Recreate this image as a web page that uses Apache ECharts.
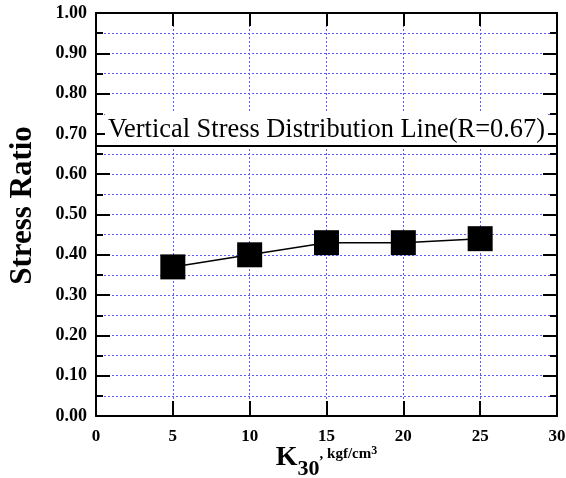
<!DOCTYPE html>
<html>
<head>
<meta charset="utf-8">
<script src="https://cdn.jsdelivr.net/npm/echarts@6/dist/echarts.min.js"></script>
<style>
  html, body { margin: 0; padding: 0; background: #fff; }
  #chart { width: 566px; height: 478px; }
</style>
</head>
<body>
<div id="chart"></div>
<script>
// data
const k30Values = [5, 10, 15, 20, 25]
const stressRatio = [0.37, 0.40, 0.43, 0.43, 0.44]
const verticalLineValue = 0.67
const verticalLineText = 'Vertical Stress Distribution Line(R=0.67)'

const serif = 'Liberation Serif, Times New Roman, serif'
const gridColor = '#5a5aff'

// common look for the frame axes
const frameLine = { show: true, onZero: false, lineStyle: { color: '#000', width: 2 } }

const chart = echarts.init(document.getElementById('chart'))

chart.setOption({
    animation: false,
    backgroundColor: '#fff',
    grid: {
        left: 96,
        right: 9,
        top: 13,
        bottom: 62,
        outerBoundsMode: 'none'
    },
    xAxis: [
        {
            type: 'value',
            min: 0,
            max: 30,
            interval: 5,
            position: 'bottom',
            axisLine: frameLine,
            axisTick: { inside: true, length: 15, lineStyle: { color: '#000', width: 2 } },
            axisLabel: {
                color: '#000',
                fontFamily: serif,
                fontWeight: 'bold',
                fontSize: 17,
                margin: 12
            },
            splitLine: { show: true, lineStyle: { color: gridColor, type: [2, 2], width: 1 } },
            name: '{k|K}{sub|30}{unit|, kgf/cm}{sup|3}',
            nameLocation: 'middle',
            nameGap: 20,
            nameMoveOverlap: false,
            nameTextStyle: {
                color: '#000',
                fontFamily: serif,
                fontWeight: 'bold',
                rich: {
                    k: { fontSize: 28, fontFamily: serif, fontWeight: 'bold', color: '#000' },
                    sub: { fontSize: 22, fontFamily: serif, fontWeight: 'bold', color: '#000', padding: [22, 0, 0, 0] },
                    unit: { fontSize: 15, fontFamily: serif, fontWeight: 'bold', color: '#000', padding: [0, 0, 7, 0] },
                    sup: { fontSize: 12, fontFamily: serif, fontWeight: 'bold', color: '#000', padding: [0, 0, 15, 0] }
                }
            }
        },
        {
            type: 'value',
            min: 0,
            max: 30,
            interval: 5,
            position: 'top',
            axisLine: frameLine,
            axisTick: { inside: true, length: 13, lineStyle: { color: '#000', width: 2 } },
            axisLabel: { show: false },
            splitLine: { show: false }
        }
    ],
    yAxis: [
        {
            type: 'value',
            min: 0,
            max: 1,
            interval: 0.1,
            position: 'left',
            axisLine: frameLine,
            axisTick: { inside: true, length: 14, lineStyle: { color: '#000', width: 2 } },
            minorTick: { show: true, splitNumber: 2, length: 7, lineStyle: { color: '#000', width: 2 } },
            axisLabel: {
                color: '#000',
                fontFamily: serif,
                fontWeight: 'bold',
                fontSize: 18,
                margin: 9,
                formatter: v => v.toFixed(2)
            },
            splitLine: { show: true, lineStyle: { color: gridColor, type: [2, 2], width: 1 } },
            minorSplitLine: { show: true, lineStyle: { color: gridColor, type: [2, 2], width: 1 } },
            name: 'Stress Ratio',
            nameLocation: 'middle',
            nameGap: 58,
            nameMoveOverlap: false,
            nameTextStyle: {
                color: '#000',
                fontFamily: serif,
                fontWeight: 'bold',
                fontSize: 31,
                padding: [0, 0, 0, 18]
            }
        },
        {
            type: 'value',
            min: 0,
            max: 1,
            interval: 0.1,
            position: 'right',
            axisLine: frameLine,
            axisTick: { inside: true, length: 14, lineStyle: { color: '#000', width: 2 } },
            minorTick: { show: true, splitNumber: 2, length: 7, lineStyle: { color: '#000', width: 2 } },
            axisLabel: { show: false },
            splitLine: { show: false }
        }
    ],
    series: [
        {
            type: 'line',
            data: k30Values.map((k, i) => [k, stressRatio[i]]),
            symbol: 'rect',
            symbolSize: 25,
            lineStyle: { color: '#000', width: 1.5 },
            itemStyle: { color: '#000' },
            z: 5,
            markLine: {
                silent: true,
                symbol: ['none', 'none'],
                lineStyle: { color: '#000', width: 2, type: 'solid' },
                label: {
                    show: true,
                    position: 'insideMiddleTop',
                    formatter: verticalLineText,
                    color: '#000',
                    fontFamily: serif,
                    fontSize: 26.4,
                    lineHeight: 30,
                    backgroundColor: '#fff',
                    padding: [2, 3, 0, 3],
                    distance: 1
                },
                data: [{ yAxis: verticalLineValue }]
            }
        }
    ]
})
</script>
</body>
</html>
